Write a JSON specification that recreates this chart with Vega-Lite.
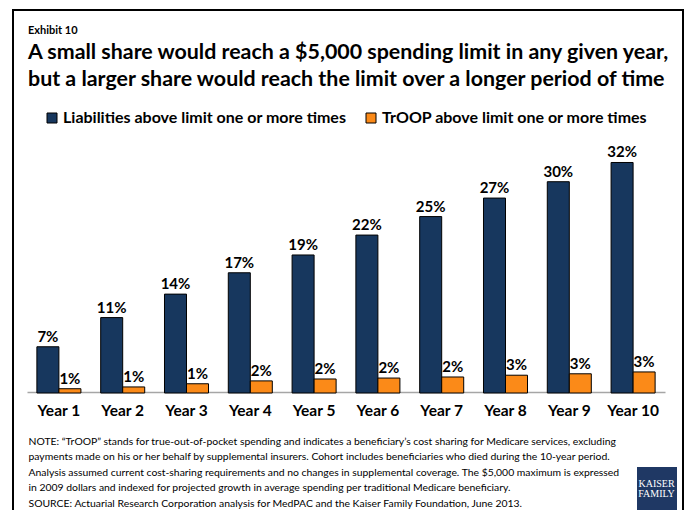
{
  "$schema": "https://vega.github.io/schema/vega-lite/v6.json",
  "autosize": {"type": "none"},
  "width": 670,
  "height": 501,
  "padding": {"left": 13, "top": 10, "right": 4, "bottom": 0},
  "background": "#ffffff",
  "config": {
    "font": "Lato",
    "view": {"stroke": "#000000", "strokeWidth": 2},
    "text": {"font": "Lato"}
  },
  "title": {
    "text": "Exhibit 10",
    "subtitle": [
      "A small share would reach a $5,000 spending limit in any given year,",
      "but a larger share would reach the limit over a longer period of time"
    ],
    "anchor": "start",
    "frame": "group",
    "orient": "top",
    "dx": 15,
    "offset": -80,
    "font": "Lato",
    "fontSize": 11,
    "fontWeight": "bold",
    "color": "#000000",
    "subtitleFont": "Lato",
    "subtitleFontSize": 21.4,
    "subtitleFontWeight": "bold",
    "subtitleColor": "#000000",
    "subtitleLineHeight": 26.5,
    "subtitlePadding": 6
  },
  "data": {
    "values": [
      {"year": "Year 1", "series": "Liabilities above limit one or more times", "value": 6.5, "label": "7%"},
      {"year": "Year 2", "series": "Liabilities above limit one or more times", "value": 10.6, "label": "11%"},
      {"year": "Year 3", "series": "Liabilities above limit one or more times", "value": 13.9, "label": "14%"},
      {"year": "Year 4", "series": "Liabilities above limit one or more times", "value": 16.9, "label": "17%"},
      {"year": "Year 5", "series": "Liabilities above limit one or more times", "value": 19.4, "label": "19%"},
      {"year": "Year 6", "series": "Liabilities above limit one or more times", "value": 22.2, "label": "22%"},
      {"year": "Year 7", "series": "Liabilities above limit one or more times", "value": 24.8, "label": "25%"},
      {"year": "Year 8", "series": "Liabilities above limit one or more times", "value": 27.4, "label": "27%"},
      {"year": "Year 9", "series": "Liabilities above limit one or more times", "value": 29.7, "label": "30%"},
      {"year": "Year 10", "series": "Liabilities above limit one or more times", "value": 32.4, "label": "32%"},
      {"year": "Year 1", "series": "TrOOP above limit one or more times", "value": 0.6, "label": "1%"},
      {"year": "Year 2", "series": "TrOOP above limit one or more times", "value": 0.85, "label": "1%"},
      {"year": "Year 3", "series": "TrOOP above limit one or more times", "value": 1.3, "label": "1%"},
      {"year": "Year 4", "series": "TrOOP above limit one or more times", "value": 1.7, "label": "2%"},
      {"year": "Year 5", "series": "TrOOP above limit one or more times", "value": 1.97, "label": "2%"},
      {"year": "Year 6", "series": "TrOOP above limit one or more times", "value": 2.1, "label": "2%"},
      {"year": "Year 7", "series": "TrOOP above limit one or more times", "value": 2.25, "label": "2%"},
      {"year": "Year 8", "series": "TrOOP above limit one or more times", "value": 2.5, "label": "3%"},
      {"year": "Year 9", "series": "TrOOP above limit one or more times", "value": 2.7, "label": "3%"},
      {"year": "Year 10", "series": "TrOOP above limit one or more times", "value": 2.96, "label": "3%"}
    ]
  },
  "encoding": {
    "x": {
      "field": "year",
      "type": "nominal",
      "sort": null,
      "scale": {"range": [14, 652], "paddingInner": 0.31, "paddingOuter": 0.155},
      "axis": {
        "orient": "bottom",
        "offset": -119,
        "labelAngle": 0,
        "labelFont": "Lato",
        "labelFontSize": 15.5,
        "labelFontWeight": "bold",
        "labelColor": "#000000",
        "labelPadding": 11,
        "labelBaseline": "top",
        "ticks": false,
        "domainColor": "#A6A6A6",
        "domainWidth": 1.5,
        "title": [
          "NOTE: “TrOOP” stands for true-out-of-pocket spending and indicates a beneficiary’s cost sharing for Medicare services, excluding",
          "payments made on his or her behalf by supplemental insurers.  Cohort includes beneficiaries who died during the 10-year period.",
          "Analysis assumed current cost-sharing requirements and no changes in supplemental coverage. The $5,000 maximum is expressed",
          "in 2009 dollars and indexed for projected growth in average spending per traditional Medicare beneficiary.",
          "SOURCE: Actuarial Research Corporation analysis for MedPAC and the Kaiser Family Foundation, June 2013."
        ],
        "titleFont": "Lato",
        "titleFontSize": 10.4,
        "titleFontWeight": "normal",
        "titleColor": "#000000",
        "titleAlign": "left",
        "titleBaseline": "top",
        "titleLineHeight": 15.5,
        "titleX": 15,
        "titleY": 44
      }
    },
    "xOffset": {
      "field": "series",
      "type": "nominal",
      "scale": {"paddingInner": 0, "paddingOuter": 0}
    },
    "y": {
      "field": "value",
      "type": "quantitative",
      "scale": {"domain": [0, 35], "range": [383, 134], "nice": false},
      "axis": null
    }
  },
  "layer": [
    {
      "mark": {"type": "bar", "stroke": "#000000", "strokeWidth": 1},
      "encoding": {
        "color": {
          "field": "series",
          "type": "nominal",
          "scale": {
            "domain": ["Liabilities above limit one or more times", "TrOOP above limit one or more times"],
            "range": ["#17375E", "#FB8A18"]
          },
          "legend": {
            "orient": "none",
            "legendX": 31,
            "legendY": 100,
            "direction": "horizontal",
            "title": null,
            "symbolType": "square",
            "symbolSize": 100,
            "symbolStrokeColor": "#000000",
            "symbolStrokeWidth": 1,
            "symbolOpacity": 1,
            "labelFont": "Lato",
            "labelFontSize": 16,
            "labelFontWeight": "bold",
            "labelColor": "#000000",
            "labelOffset": 3,
            "labelLimit": 400,
            "columnPadding": 16
          }
        }
      }
    },
    {
      "mark": {"type": "text", "baseline": "alphabetic", "dy": -5, "fontSize": 15, "fontWeight": "bold", "color": "#000000"},
      "encoding": {
        "text": {"field": "label"},
        "opacity": {
          "field": "series",
          "type": "ordinal",
          "scale": {"range": [1, 1]},
          "legend": {
            "orient": "none",
            "legendX": 624,
            "legendY": 457,
            "values": [],
            "fillColor": "#1F3864",
            "padding": 1.5,
            "title": [" ", "KAISER", "FAMILY", " "],
            "titleFont": "Liberation Serif",
            "titleFontSize": 10,
            "titleFontWeight": "normal",
            "titleColor": "#FFFFFF",
            "titleLineHeight": 10,
            "titleLimit": 40,
            "titleAlign": "center",
            "titlePadding": 0
          }
        }
      }
    }
  ]
}
